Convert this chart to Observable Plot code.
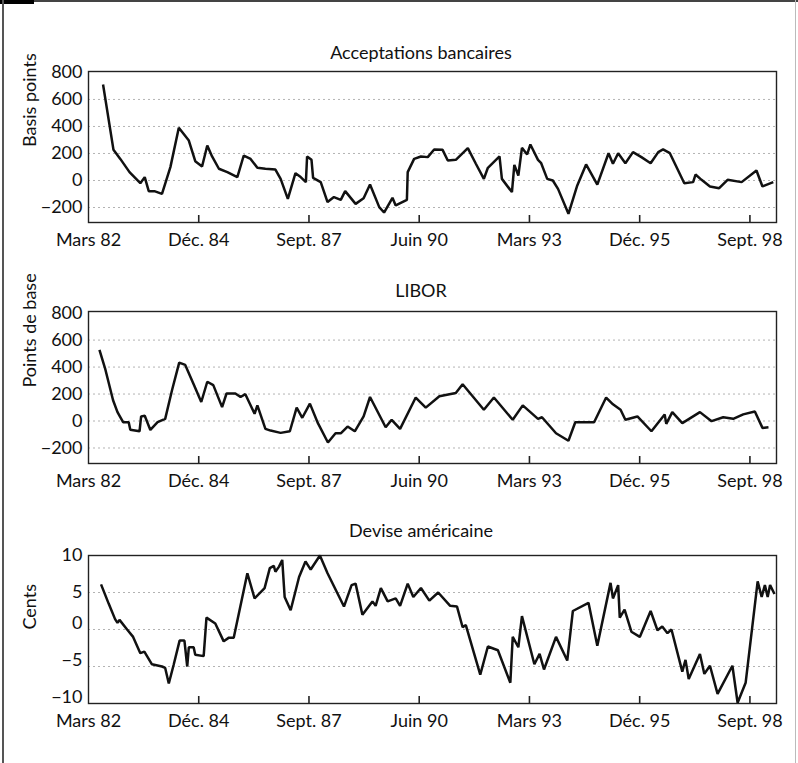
<!DOCTYPE html>
<html>
<head>
<meta charset="utf-8">
<script src="https://cdn.jsdelivr.net/npm/d3@7"></script>
<script src="https://cdn.jsdelivr.net/npm/@observablehq/plot@0.6"></script>
<style>
  html, body { margin: 0; padding: 0; background: #fff; }
  #page { position: relative; width: 798px; height: 763px; overflow: hidden; font-family: Lato, "Open Sans", sans-serif; color: #111; background: #fff; }
  .border-top { position: absolute; left: 0; top: 0; width: 798px; height: 2px; background: #444; }
  .corner { position: absolute; left: 0; top: 0; width: 34px; height: 4px; background: #000; }
  .border-left { position: absolute; left: 2px; top: 0; width: 2px; height: 763px; background: #555; }
  .border-right { position: absolute; left: 795px; top: 0; width: 1px; height: 763px; background: #bbb; }
  .title { position: absolute; left: 0; width: 842px; text-align: center; font-size: 18px; line-height: 22px; }
  .panel { position: absolute; left: 0; }
</style>
</head>
<body>
<div id="page">
  <div class="border-top"></div>
  <div class="corner"></div>
  <div class="border-left"></div>
  <div class="border-right"></div>
</div>
<script>
// ---- Data ----
const tickYears  = [1982.167, 1984.917, 1987.667, 1990.417, 1993.167, 1995.917, 1998.667];
const tickLabels = ["Mars 82", "Déc. 84", "Sept. 87", "Juin 90", "Mars 93", "Déc. 95", "Sept. 98"];

const titles = ["Acceptations bancaires", "LIBOR", "Devise américaine"];
const yLabels = ["Basis points", "Points de base", "Cents"];

const ticksBp = [800, 600, 400, 200, 0, -200];
const ticksCents = [10, 5, 0, -5, -10];

// Acceptations bancaires (basis points)
const accDates = [1982.53,1982.79,1982.96,1983.19,1983.46,1983.57,1983.67,1983.81,1984.00,1984.21,1984.42,1984.67,1984.83,1985.00,1985.13,1985.25,1985.42,1985.63,1985.88,1986.04,1986.21,1986.38,1986.58,1986.83,1986.96,1987.14,1987.33,1987.46,1987.59,1987.62,1987.73,1987.77,1987.96,1988.13,1988.29,1988.46,1988.57,1988.83,1989.03,1989.19,1989.42,1989.54,1989.75,1989.83,1990.11,1990.13,1990.29,1990.46,1990.63,1990.79,1991.00,1991.13,1991.33,1991.63,1991.83,1992.03,1992.13,1992.42,1992.48,1992.73,1992.79,1992.89,1992.98,1993.11,1993.19,1993.38,1993.46,1993.61,1993.75,1993.88,1994.14,1994.36,1994.58,1994.86,1995.14,1995.25,1995.38,1995.56,1995.75,1995.96,1996.19,1996.38,1996.50,1996.67,1997.03,1997.25,1997.31,1997.46,1997.67,1997.90,1998.11,1998.46,1998.83,1998.98,1999.25];
const accValues = [711,227,160,62,-20,25,-79,-79,-99,99,390,296,143,104,259,178,87,62,25,185,160,94,87,81,12,-136,54,25,-12,178,153,20,-12,-160,-123,-143,-79,-173,-131,-30,-197,-237,-128,-185,-143,62,160,178,173,230,227,148,153,240,124,12,94,178,12,-86,116,37,242,193,267,153,128,12,0,-62,-247,-37,119,-30,202,124,202,128,210,173,128,210,230,202,-20,-12,44,5,-44,-57,5,-12,74,-44,-12];

// LIBOR (points de base)
const liborDates = [1982.44,1982.58,1982.78,1982.89,1983.03,1983.17,1983.21,1983.44,1983.48,1983.57,1983.71,1983.89,1984.08,1984.25,1984.43,1984.58,1984.79,1984.98,1985.13,1985.28,1985.50,1985.61,1985.83,1985.96,1986.08,1986.31,1986.38,1986.58,1986.71,1986.96,1987.19,1987.36,1987.50,1987.69,1987.89,1988.14,1988.33,1988.46,1988.63,1988.81,1989.03,1989.19,1989.58,1989.73,1989.94,1990.33,1990.58,1990.92,1991.33,1991.50,1992.03,1992.28,1992.75,1993.00,1993.38,1993.48,1993.83,1994.14,1994.31,1994.78,1995.08,1995.25,1995.44,1995.56,1995.86,1996.21,1996.54,1996.58,1996.73,1996.98,1997.42,1997.71,1998.00,1998.25,1998.50,1998.79,1998.98,1999.13];
const liborValues = [528,391,154,66,-9,-9,-64,-76,34,39,-66,-9,16,228,433,416,273,141,291,266,103,204,204,178,199,54,116,-58,-71,-88,-76,99,24,129,-16,-159,-91,-91,-41,-76,34,178,-46,9,-58,174,99,184,208,273,84,174,9,116,16,28,-91,-146,-9,-9,174,124,84,9,34,-76,49,-21,66,-16,66,-1,28,16,49,71,-51,-46];

// Devise américaine (cents)
const usdDates = [1982.48,1982.67,1982.83,1982.89,1982.94,1983.13,1983.28,1983.46,1983.56,1983.75,1984.00,1984.08,1984.17,1984.29,1984.44,1984.56,1984.63,1984.67,1984.79,1984.83,1985.04,1985.11,1985.33,1985.54,1985.67,1985.79,1986.13,1986.31,1986.56,1986.69,1986.79,1986.83,1986.92,1987.00,1987.06,1987.21,1987.42,1987.58,1987.71,1987.94,1988.13,1988.54,1988.73,1988.83,1989.00,1989.25,1989.33,1989.46,1989.63,1989.83,1989.94,1990.13,1990.27,1990.46,1990.67,1990.89,1991.19,1991.36,1991.50,1991.58,1991.94,1992.13,1992.38,1992.69,1992.75,1992.89,1992.98,1993.29,1993.42,1993.53,1993.83,1994.11,1994.25,1994.64,1994.86,1995.19,1995.25,1995.38,1995.42,1995.54,1995.71,1995.92,1996.19,1996.36,1996.48,1996.61,1996.71,1996.98,1997.06,1997.14,1997.42,1997.53,1997.67,1997.86,1998.23,1998.36,1998.56,1998.86,1998.96,1999.04,1999.11,1999.17,1999.28];
const usdValues = [6.1,3.5,1.4,0.9,1.3,0,-1,-3.2,-3,-4.7,-5,-5.2,-7.3,-4.8,-1.5,-1.5,-5,-2.4,-2.4,-3.4,-3.6,1.6,0.8,-1.6,-1.1,-1.1,7.6,4.2,5.6,8.3,8.6,7.8,8.5,9.4,4.4,2.6,7.1,9.2,8.1,10,7.6,3.1,6.0,6.2,2,3.8,3.2,5.6,3.8,4.2,3.2,6.2,4.4,5.6,3.9,5.0,3.2,3.1,0.3,0.6,-6.1,-2.3,-2.8,-7.2,-1,-2.4,1.8,-4.7,-3.3,-5.4,-1,-4.2,2.5,3.6,-2.2,6.3,4.2,6.0,1.6,2.7,-0.3,-1,2.5,-0.1,0.4,-0.5,0,-5.7,-4.1,-6.7,-3.3,-6,-4.9,-8.7,-4.9,-9.9,-7.2,6.5,4.4,6.0,4.4,6.0,4.8];

// ---- Drawing ----
const xDomain = [1982.167, 1999.33];
const labelOf = new Map(tickYears.map((t, i) => [t, tickLabels[i]]));
const font = "Lato, 'Open Sans', sans-serif";

function panel({dates, values, yDomain, yTicksUpper, yTicksLower, lowerDy, grid, label, height}) {
  const data = dates.map((t, i) => ({t, v: values[i]}));
  const mt = 5, mb = 35;
  const frameH = height - mt - mb;
  return Plot.plot({
    width: 798, height,
    marginTop: mt, marginBottom: mb, marginLeft: 88, marginRight: 22,
    style: {fontFamily: font, fontSize: "18px", color: "#111", background: "transparent", overflow: "visible"},
    x: {type: "linear", domain: xDomain, axis: null},
    y: {domain: yDomain, axis: null},
    marks: [
      Plot.gridY(grid, {stroke: "#999", strokeOpacity: 0.75, strokeDasharray: "2,3", strokeWidth: 1}),
      Plot.frame({stroke: "#222", strokeWidth: 1.4}),
      Plot.tickX(tickYears.slice(1), {x: d => d, stroke: "#222", strokeWidth: 1.6, insetTop: frameH - 7}),
      Plot.axisX(tickYears, {anchor: "bottom", tickSize: 0, tickPadding: 11, fontSize: 18, tickFormat: d => labelOf.get(d), label: null}),
      Plot.axisY(yTicksUpper, {anchor: "left", tickSize: 0, tickPadding: 6, fontSize: 18, label: null}),
      Plot.axisY(yTicksLower, {anchor: "left", tickSize: 0, tickPadding: 6, fontSize: 18, label: null, dy: lowerDy}),
      Plot.text([label], {frameAnchor: "left", rotate: -90, dx: -58, fontSize: 18, fill: "#111"}),
      Plot.line(data, {x: "t", y: "v", stroke: "#111", strokeWidth: 2.5, strokeLinejoin: "miter", strokeLinecap: "butt"})
    ]
  });
}

const page = document.getElementById("page");
const specs = [
  {dates: accDates, values: accValues, yDomain: [-311, 807], yTicksUpper: ticksBp, yTicksLower: [], lowerDy: 0, grid: [600, 400, 200, 0, -200], top: 66, height: 191, titleTop: 41},
  {dates: liborDates, values: liborValues, yDomain: [-315, 812], yTicksUpper: ticksBp, yTicksLower: [], lowerDy: 0, grid: [600, 400, 200, 0, -200], top: 306, height: 192, titleTop: 279},
  {dates: usdDates, values: usdValues, yDomain: [-10, 10], yTicksUpper: ticksCents.slice(0, 2), yTicksLower: ticksCents.slice(2), lowerDy: -6, grid: [5, 0, -5], top: 550, height: 188, titleTop: 519}
];
specs.forEach((s, i) => {
  const t = document.createElement("div");
  t.className = "title";
  t.style.top = s.titleTop + "px";
  t.textContent = titles[i];
  page.appendChild(t);
  const holder = document.createElement("div");
  holder.className = "panel";
  holder.style.top = s.top + "px";
  holder.appendChild(panel({...s, label: yLabels[i]}));
  page.appendChild(holder);
});
</script>
</body>
</html>
